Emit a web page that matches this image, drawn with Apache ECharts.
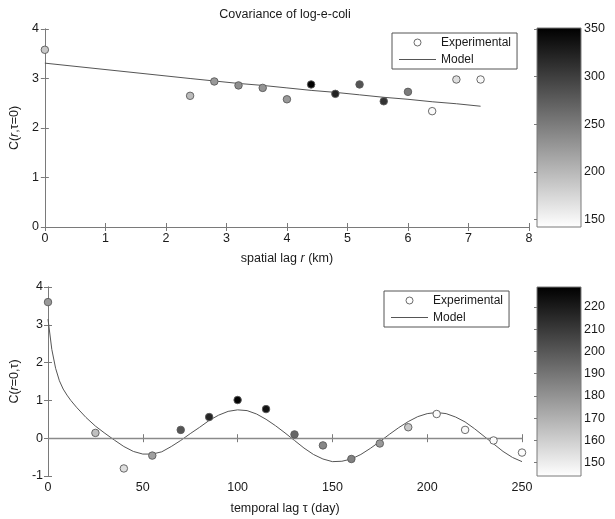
<!DOCTYPE html>
<html><head><meta charset="utf-8">
<script src="https://cdn.jsdelivr.net/npm/echarts@6/dist/echarts.min.js"></script>
<style>html,body{margin:0;padding:0;background:#fff}#c{width:615px;height:519px}</style>
</head><body><div id="c"></div>
<script>
// ---- data ----
const spatialLag = [0, 2.4, 2.8, 3.2, 3.6, 4.0, 4.4, 4.8, 5.2, 5.6, 6.0, 6.4, 6.8, 7.2];
const spatialCov = [3.58, 2.65, 2.94, 2.86, 2.81, 2.58, 2.88, 2.69, 2.88, 2.54, 2.73, 2.34, 2.98, 2.98];
const spatialCount = [187, 198, 226, 235, 230, 226, 350, 323, 282, 309, 250, 145, 168, 148];
const spatialModelLag = [0, 2.4, 2.8, 3.2, 3.6, 4.0, 4.4, 4.8, 5.2, 5.6, 6.0, 6.4, 6.8, 7.2];
const spatialModelCov = [3.31, 3.00, 2.95, 2.90, 2.86, 2.81, 2.76, 2.72, 2.67, 2.62, 2.58, 2.53, 2.49, 2.44];
const spatialColorRange = [142, 351];
const spatialColorTicks = [150, 200, 250, 300, 350];

const temporalLag = [0, 25, 40, 55, 70, 85, 100, 115, 130, 145, 160, 175, 190, 205, 220, 235, 250];
const temporalCov = [3.60, 0.14, -0.80, -0.46, 0.22, 0.56, 1.01, 0.77, 0.10, -0.19, -0.55, -0.14, 0.29, 0.64, 0.22, -0.06, -0.38];
const temporalCount = [178, 165, 155, 176, 201, 217, 228, 223, 195, 184, 186, 178, 162, 145, 146, 145, 145];
const temporalModelLag = [0, 2, 4, 6, 8, 10, 12, 15, 20, 25, 30, 35, 40, 45, 50, 55, 60, 65, 70, 75, 80, 85, 90, 95, 100, 105, 110, 115, 120, 125, 130, 135, 140, 145, 150, 155, 160, 165, 170, 175, 180, 185, 190, 195, 200, 205, 210, 215, 220, 225, 230, 235, 240, 245, 250];
const temporalModelCov = [3.15, 2.35, 1.85, 1.52, 1.30, 1.14, 1.00, 0.82, 0.55, 0.32, 0.13, -0.05, -0.22, -0.35, -0.42, -0.42, -0.36, -0.22, -0.06, 0.12, 0.29, 0.47, 0.61, 0.71, 0.75, 0.73, 0.64, 0.50, 0.33, 0.14, -0.06, -0.26, -0.43, -0.55, -0.62, -0.61, -0.55, -0.43, -0.27, -0.09, 0.10, 0.28, 0.44, 0.57, 0.65, 0.68, 0.65, 0.56, 0.43, 0.25, 0.05, -0.15, -0.35, -0.51, -0.62];
const temporalColorRange = [144, 229];
const temporalColorTicks = [150, 160, 170, 180, 190, 200, 210, 220];

const titleText = 'Covariance of log-e-coli';

// ---- build ----
const FONT = "'Liberation Sans', Arial, sans-serif";
const TXT = '#1a1a1a';
const AX = '#7a7a7a';
const FS = 12.5;

function zip(a, b, c) { return a.map((v, i) => c ? [v, b[i], c[i]] : [v, b[i]]); }

const axisLine = { show: true, lineStyle: { color: AX, width: 1 } };
const tickIn = { show: true, inside: true, length: 4, lineStyle: { color: AX } };
const labelStyle = { color: TXT, fontSize: FS, fontFamily: FONT };
const rich = {
  n: { fontSize: FS, fontFamily: FONT, color: TXT },
  i: { fontSize: FS, fontFamily: FONT, color: TXT, fontStyle: 'italic' }
};

function mainX(grid, min, max, interval, name, gap) {
  return [
    { gridIndex: grid, type: 'value', min, max, interval, position: 'bottom',
      axisLine, axisTick: tickIn, splitLine: { show: false },
      axisLabel: Object.assign({ margin: 5 }, labelStyle),
      name, nameLocation: 'middle', nameGap: gap, nameTextStyle: { rich } },
    { gridIndex: grid, type: 'value', min, max, interval, position: 'top',
      axisLine, axisTick: tickIn, splitLine: { show: false }, axisLabel: { show: false } }
  ];
}
function mainY(grid, min, max, interval, name, gap, margin) {
  return [
    { gridIndex: grid, type: 'value', min, max, interval, position: 'left',
      axisLine, axisTick: tickIn, splitLine: { show: false },
      axisLabel: Object.assign({ margin }, labelStyle),
      name, nameLocation: 'middle', nameGap: gap, nameRotate: 90, nameTextStyle: { rich } },
    { gridIndex: grid, type: 'value', min, max, interval, position: 'right',
      axisLine, axisTick: tickIn, splitLine: { show: false }, axisLabel: { show: false } }
  ];
}
function cbX(grid) {
  return { gridIndex: grid, type: 'value', min: 0, max: 1, show: false };
}
function cbY(grid, range, ticks) {
  return [
    { gridIndex: grid, type: 'value', min: range[0], max: range[1], position: 'right',
      axisLine: { show: false }, splitLine: { show: false },
      axisTick: { show: true, inside: true, length: 3, lineStyle: { color: AX }, customValues: ticks },
      axisLabel: Object.assign({ margin: 3, customValues: ticks }, labelStyle) },
    { gridIndex: grid, type: 'value', min: range[0], max: range[1], position: 'left',
      axisLine: { show: false }, splitLine: { show: false },
      axisTick: { show: true, inside: true, length: 3, lineStyle: { color: AX }, customValues: ticks },
      axisLabel: { show: false } }
  ];
}
function colorbar(xi, yi, range) {
  return {
    type: 'custom', xAxisIndex: xi, yAxisIndex: yi, silent: true,
    data: [[0, range[0], range[1]]],
    renderItem: function (params, api) {
      const p1 = api.coord([0, api.value(2)]);
      const p2 = api.coord([1, api.value(1)]);
      return {
        type: 'rect',
        shape: { x: p1[0], y: p1[1], width: p2[0] - p1[0], height: p2[1] - p1[1] },
        style: {
          fill: new echarts.graphic.LinearGradient(0, 0, 0, 1, [
            { offset: 0, color: '#000000' }, { offset: 1, color: '#ffffff' }]),
          stroke: AX, lineWidth: 1
        }
      };
    }
  };
}
function scatter(xi, yi, data) {
  return {
    name: 'Experimental', type: 'scatter', xAxisIndex: xi, yAxisIndex: yi,
    symbol: 'circle', symbolSize: 7.5, data,
    itemStyle: { borderColor: '#5a5a5a', borderWidth: 0.9, opacity: 1 },
    z: 5
  };
}
function modelLine(xi, yi, data, extra) {
  return Object.assign({
    name: 'Model', type: 'line', xAxisIndex: xi, yAxisIndex: yi, data,
    symbol: 'none', smooth: false, color: '#555',
    lineStyle: { color: '#555', width: 1 }, z: 4
  }, extra || {});
}
function legend(left, top) {
  return {
    left, top, orient: 'vertical', padding: [2.5, 6, 2.5, 7], itemGap: 3,
    itemWidth: 37, itemHeight: 7, borderColor: '#555', borderWidth: 1,
    backgroundColor: '#fff', selectedMode: false,
    textStyle: { color: TXT, fontSize: 12, fontFamily: FONT, lineHeight: 14 },
    data: [
      { name: 'Experimental', icon: 'circle', itemStyle: { color: '#ffffff', borderColor: '#5a5a5a', borderWidth: 0.9 } },
      { name: 'Model', icon: 'path://M0,0L37,0L37,1L0,1Z', itemStyle: { color: '#555555', borderWidth: 0 } }
    ]
  };
}

const option = {
  animation: false,
  backgroundColor: '#ffffff',
  textStyle: { fontFamily: FONT },
  title: { text: titleText, left: 285, top: 8, padding: 0, textAlign: 'center',
    textStyle: { color: TXT, fontSize: FS, fontWeight: 'normal', fontFamily: FONT } },
  grid: [
    { left: 41, top: 29, width: 488, height: 198 },
    { left: 537, top: 28, width: 44, height: 199 },
    { left: 41, top: 287, width: 481, height: 189 },
    { left: 537, top: 287, width: 44, height: 189 }
  ],
  xAxis: [].concat(
    mainX(0, 0, 8, 1, '{n|spatial lag }{i|r}{n| (km)}', 25),
    [cbX(1)],
    mainX(2, 0, 250, 50, '{n|temporal lag τ (day)}', 26),
    [cbX(3)]
  ),
  yAxis: [].concat(
    mainY(0, 0, 4, 1, '{n|C(}{i|r}{n|,τ=0)}', 21, 6),
    cbY(1, spatialColorRange, spatialColorTicks),
    mainY(2, -1, 4, 1, '{n|C(}{i|r}{n|=0,τ)}', 25, 5),
    cbY(3, temporalColorRange, temporalColorTicks)
  ),
  visualMap: [
    { type: 'continuous', show: false, seriesIndex: 0, dimension: 2,
      min: spatialColorRange[0], max: spatialColorRange[1],
      inRange: { color: ['#ffffff', '#000000'] } },
    { type: 'continuous', show: false, seriesIndex: 3, dimension: 2,
      min: temporalColorRange[0], max: temporalColorRange[1],
      inRange: { color: ['#ffffff', '#000000'] } }
  ],
  legend: [legend(392, 33), legend(384, 291)],
  series: [
    scatter(0, 0, zip(spatialLag, spatialCov, spatialCount)),
    modelLine(0, 0, zip(spatialModelLag, spatialModelCov)),
    colorbar(2, 2, spatialColorRange),
    scatter(3, 4, zip(temporalLag, temporalCov, temporalCount)),
    modelLine(3, 4, zip(temporalModelLag, temporalModelCov), {
      markLine: { silent: true, symbol: 'none', label: { show: false },
        lineStyle: { color: '#8a8a8a', width: 1.3, type: 'solid' },
        data: [{ yAxis: 0 }] }
    }),
    colorbar(5, 6, temporalColorRange)
  ]
};
const chart = echarts.init(document.getElementById('c'), null, { renderer: 'canvas' });
chart.setOption(option);
</script></body></html>
